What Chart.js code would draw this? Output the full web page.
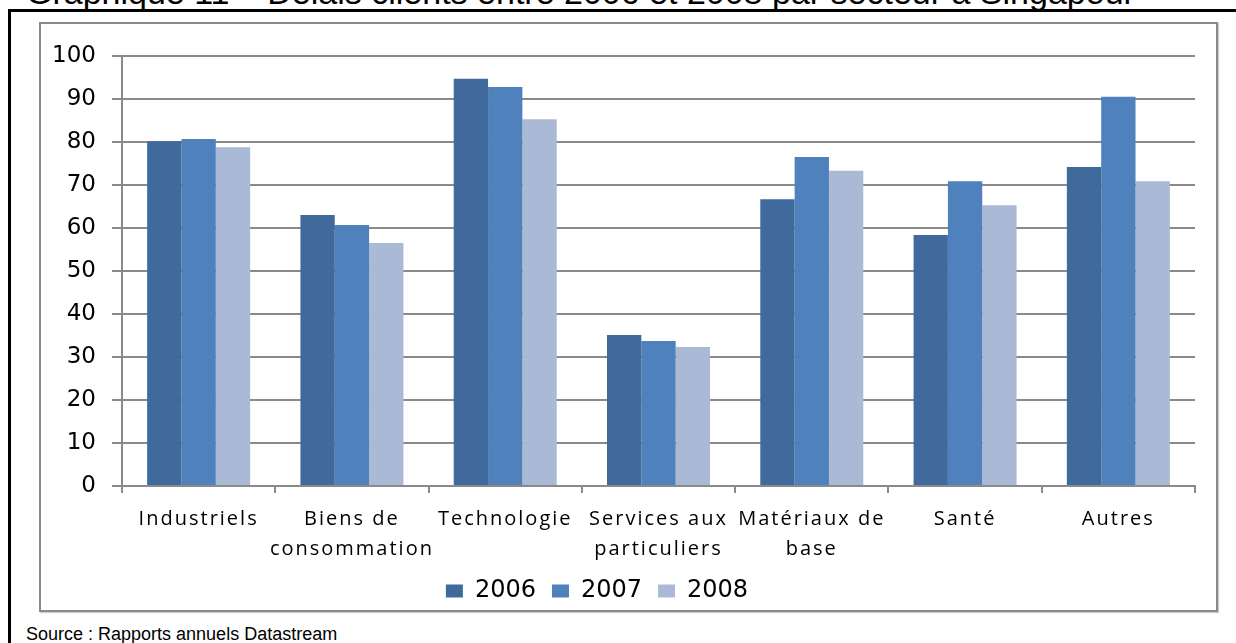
<!DOCTYPE html>
<html lang="fr">
<head>
<meta charset="utf-8">
<script src="https://cdn.jsdelivr.net/npm/chart.js@4"></script>
<style>
  html, body { margin: 0; padding: 0; background: #fff; overflow: hidden; }
  body { width: 1236px; height: 643px; position: relative; }
  #titre { position: absolute; left: 26px; top: -25px; font: 34px "Liberation Sans", Arial, sans-serif; line-height: 34px; white-space: nowrap; color: #000; }
  #cadre { position: absolute; left: 8px; top: 9px; width: 1300px; height: 700px; border-left: 3px solid #000; border-top: 3px solid #000; }
  #graph { position: absolute; left: 39px; top: 22px; width: 1175px; height: 586px; border: 2px solid #8a8a8a; box-shadow: 1px 1px 1px #cfcfcf; background: #fff; }
  #graph canvas { display: block; }
  #source { position: absolute; left: 26px; top: 625px; font: 18px "Liberation Sans", Arial, sans-serif; line-height: 18px; white-space: nowrap; color: #000; }
</style>
</head>
<body>
<div id="titre">Graphique 11 – Délais clients entre 2006 et 2008 par secteur à Singapour</div>
<div id="cadre"></div>
<div id="graph"><canvas id="delais" width="1175" height="586"></canvas></div>
<div id="source">Source : Rapports annuels Datastream</div>

<script>
// secteurs et délais clients (jours) par année
const secteurs = ['Industriels', ['Biens de', 'consommation'], 'Technologie', ['Services aux', 'particuliers'], ['Matériaux de', 'base'], 'Santé', 'Autres'];
const annees = ['2006', '2007', '2008'];
const delais2006 = [80.2, 63.0, 94.7, 35.1, 66.7, 58.4, 74.2];
const delais2007 = [80.7, 60.7, 92.8, 33.7, 76.5, 70.9, 90.5];
const delais2008 = [78.8, 56.5, 85.3, 32.3, 73.3, 65.3, 70.9];
const couleurs = ['#3f6a9b', '#4f81bd', '#aab9d6'];
const axeMin = 0, axeMax = 100, pas = 10;

const series = [delais2006, delais2007, delais2008];
const gris = '#8a8a8a';

// axe des catégories avec libellés un peu espacés
class CategorieEspacee extends Chart.CategoryScale {
    drawLabels(area) {
        this.ctx.save();
        this.ctx.letterSpacing = '2px';
        super.drawLabels(area);
        this.ctx.restore();
    }
}
CategorieEspacee.id = 'categorieEspacee';
CategorieEspacee.defaults = Chart.CategoryScale.defaults;
Chart.register(CategorieEspacee);

// légende un peu décalée (gauche et bas)
const decalageLegende = {
    id: 'decalageLegende',
    afterLayout(chart) {
        const l = chart.legend;
        l.left -= 21;
        l.right -= 21;
        l.top += 3;
        l.bottom += 3;
    }
};

function createChart() {
    const ctx = document.getElementById('delais').getContext('2d');
    new Chart(ctx, {
        type: 'bar',
        data: {
            labels: secteurs,
            datasets: annees.map((annee, i) => ({
                label: annee,
                data: series[i],
                backgroundColor: couleurs[i],
                borderWidth: 0,
                categoryPercentage: 0.672,
                barPercentage: 1
            }))
        },
        plugins: [decalageLegende],
        options: {
            responsive: false,
            animation: false,
            devicePixelRatio: 1,
            layout: { padding: { top: 32, right: 21, bottom: 0, left: 0 } },
            plugins: {
                tooltip: { enabled: false },
                legend: {
                    position: 'bottom',
                    labels: {
                        boxWidth: 17,
                        boxHeight: 13,
                        padding: 16,
                        color: '#000',
                        font: { family: 'DejaVu Sans', size: 24 }
                    }
                }
            },
            scales: {
                y: {
                    min: axeMin,
                    max: axeMax,
                    ticks: { stepSize: pas, color: '#000', padding: 16, font: { family: 'DejaVu Sans', size: 23 } },
                    grid: { color: gris, lineWidth: 2, tickLength: 10 },
                    border: { color: gris, width: 2 },
                    afterFit: s => { s.width = 81; }
                },
                x: {
                    type: 'categorieEspacee',
                    ticks: { color: '#000', padding: 11, maxRotation: 0, autoSkip: false, font: { family: 'Open Sans', size: 20, lineHeight: 1.5 } },
                    grid: { drawOnChartArea: false, offset: true, tickLength: 7, color: gris, lineWidth: 2 },
                    border: { color: gris, width: 2 },
                    afterFit: s => { s.height = 74; }
                }
            }
        }
    });
}

document.addEventListener('DOMContentLoaded', createChart);
</script>
</body>
</html>
